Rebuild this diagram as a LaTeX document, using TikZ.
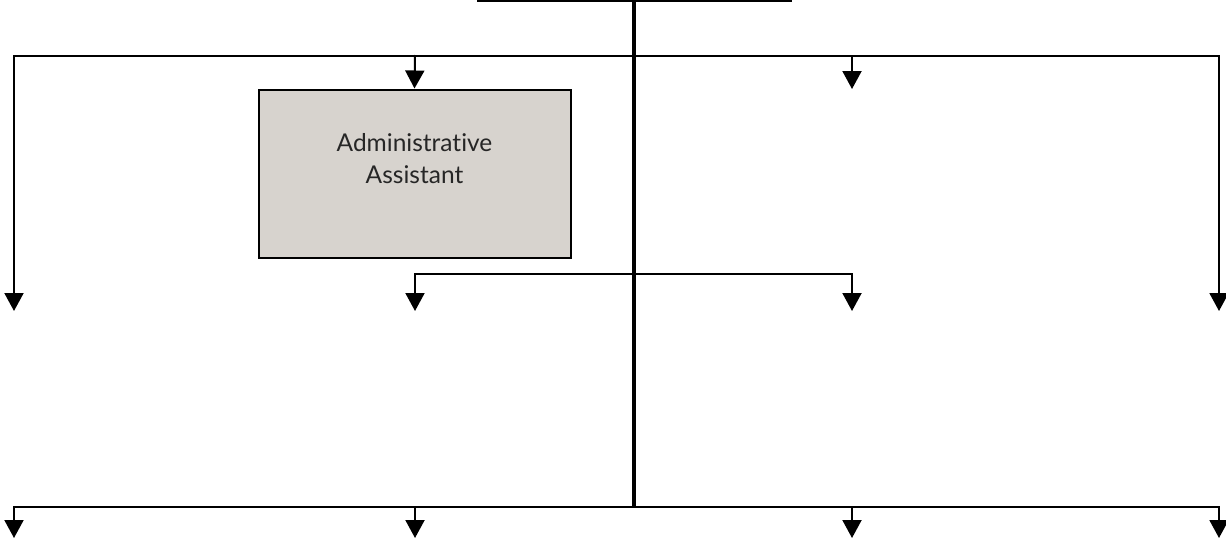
\documentclass[tikz,border=0pt]{standalone}
\usepackage{fontspec}
\setmainfont{Lato}[Ligatures=NoCommon]
\usetikzlibrary{arrows.meta}
\definecolor{boxgray}{HTML}{D7D3CE}
\tikzset{
  conn/.style={line width=2pt, line cap=rect},
  trunk/.style={line width=3.5pt},
  arr/.style={conn, -{Triangle[width=19pt,length=18pt]}},
  box/.style={draw=black, line width=2pt, fill=boxgray, minimum width=312pt, minimum height=168pt, inner sep=0pt},
  lbl/.style={align=center, font=\fontsize{24.5}{32}\selectfont, text=black!85}
}
\begin{document}
\begin{tikzpicture}[x=1pt,y=-1pt]
\useasboundingbox (0,0) rectangle (1226,539);
% coordinates
\coordinate (tl) at (478,0.8);
\coordinate (tr) at (791,0.8);
\coordinate (top) at (634,0);
\coordinate (j1) at (634,56);
\coordinate (j2) at (634,274);
\coordinate (j3) at (634,507);
\coordinate (l1) at (14,56);
\coordinate (r1) at (1219,56);
\coordinate (a1) at (415,56);
\coordinate (b1) at (852,56);
\coordinate (b1t) at (852,89);
\coordinate (l1t) at (14,311);
\coordinate (r1t) at (1219,311);
\coordinate (a2) at (415,274);
\coordinate (b2) at (852,274);
\coordinate (a2t) at (415,311);
\coordinate (b2t) at (852,311);
\coordinate (l3) at (14,507);
\coordinate (a3) at (415,507);
\coordinate (b3) at (852,507);
\coordinate (r3) at (1219,507);
\coordinate (l3t) at (14,538);
\coordinate (a3t) at (415,538);
\coordinate (b3t) at (852,538);
\coordinate (r3t) at (1219,538);
% box
\node[box] (aa) at (414.5,173.5) {};
\node[lbl] (aat) at ([yshift=15pt]aa.center) {Administrative\\Assistant};
% top line
\draw[conn] (tl) -- (tr);
% trunk
\draw[trunk] (top) -- (j3);
% row 1
\draw[conn] (l1) -- (r1);
\draw[arr] (l1) -- (l1t);
\draw[arr] (r1) -- (r1t);
\draw[arr] (a1) -- (aa.north);
\draw[arr] (b1) -- (b1t);
% row 2
\draw[conn] (a2) -- (b2);
\draw[arr] (a2) -- (a2t);
\draw[arr] (b2) -- (b2t);
% row 3
\draw[conn] (l3) -- (r3);
\draw[arr] (l3) -- (l3t);
\draw[arr] (a3) -- (a3t);
\draw[arr] (b3) -- (b3t);
\draw[arr] (r3) -- (r3t);
\end{tikzpicture}
\end{document}
